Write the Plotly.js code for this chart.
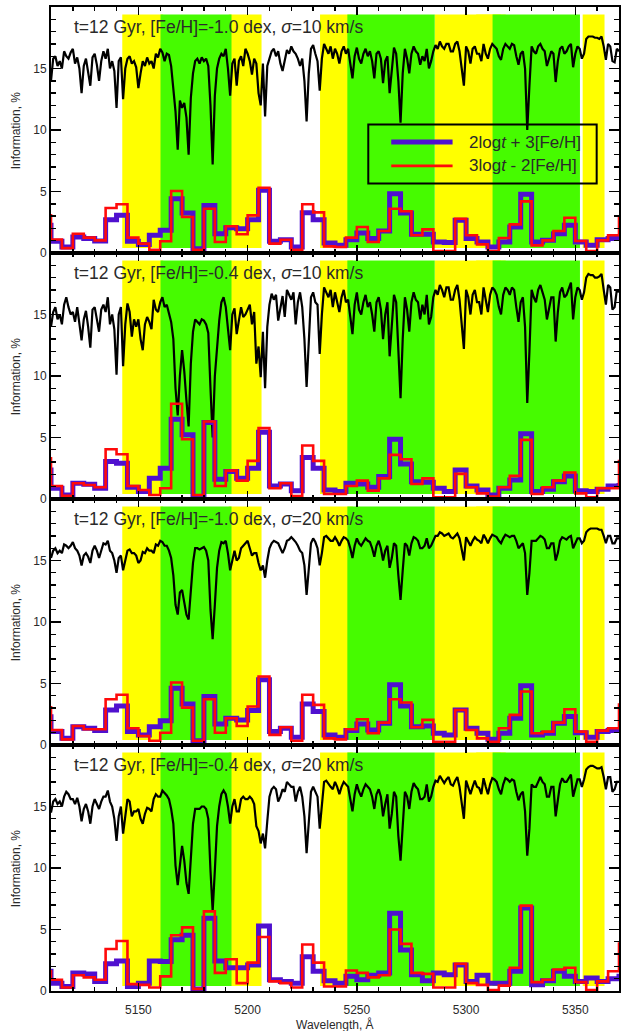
<!DOCTYPE html>
<html><head><meta charset="utf-8">
<script src="https://cdn.plot.ly/plotly-3.0.1.min.js"></script>
<style>html,body{margin:0;padding:0;background:#fff}#chart{width:621px;height:1031px}</style>
</head><body><div id="chart"></div>
<script>
// ---------- DATA ----------
const specWave = [
5110,5111,5112,5113,5114,5115,5116,5117,5118,5119,
5120,5121,5122,5123,5124,5125,5126,5127,5128,5129,
5130,5131,5132,5133,5134,5135,5136,5137,5138,5139,
5140,5141,5142,5143,5144,5145,5146,5147,5148,5149,
5150,5151,5152,5153,5154,5155,5156,5157,5158,5159,
5160,5161,5162,5163,5164,5165,5166,5167,5168,5169,
5170,5171,5172,5173,5174,5175,5176,5177,5178,5179,
5180,5181,5182,5183,5184,5185,5186,5187,5188,5189,
5190,5191,5192,5193,5194,5195,5196,5197,5198,5199,
5200,5201,5202,5203,5204,5205,5206,5207,5208,5209,
5210,5211,5212,5213,5214,5215,5216,5217,5218,5219,
5220,5221,5222,5223,5224,5225,5226,5227,5228,5229,
5230,5231,5232,5233,5234,5235,5236,5237,5238,5239,
5240,5241,5242,5243,5244,5245,5246,5247,5248,5249,
5250,5251,5252,5253,5254,5255,5256,5257,5258,5259,
5260,5261,5262,5263,5264,5265,5266,5267,5268,5269,
5270,5271,5272,5273,5274,5275,5276,5277,5278,5279,
5280,5281,5282,5283,5284,5285,5286,5287,5288,5289,
5290,5291,5292,5293,5294,5295,5296,5297,5298,5299,
5300,5301,5302,5303,5304,5305,5306,5307,5308,5309,
5310,5311,5312,5313,5314,5315,5316,5317,5318,5319,
5320,5321,5322,5323,5324,5325,5326,5327,5328,5329,
5330,5331,5332,5333,5334,5335,5336,5337,5338,5339,
5340,5341,5342,5343,5344,5345,5346,5347,5348,5349,
5350,5351,5352,5353,5354,5355,5356,5357,5358,5359,
5360,5361,5362,5363,5364,5365,5366,5367,5368,5369,
5370];

const specP1 = [
14.0,15.8,16.0,15.2,15.6,15.0,16.4,16.0,15.8,16.3,
16.6,15.4,15.9,15.0,13.0,15.2,15.8,14.8,13.6,15.9,
16.2,15.3,14.0,15.6,16.4,15.8,16.6,15.0,15.6,14.8,
11.8,15.6,15.9,12.5,15.0,15.8,16.0,15.4,15.6,15.1,
13.4,14.6,15.6,15.2,15.9,15.4,15.6,15.0,16.2,15.9,
16.6,16.3,15.6,16.2,16.1,15.2,13.6,11.5,8.4,12.4,
11.8,12.2,11.0,8.0,12.6,14.6,15.6,15.8,15.4,15.9,
15.6,15.8,15.2,12.0,7.2,12.8,15.0,15.8,16.2,16.0,
16.6,15.0,12.8,15.4,15.8,13.6,15.6,16.0,15.2,16.6,
16.2,15.6,14.5,15.8,15.4,13.0,12.0,15.4,11.1,15.2,
15.8,16.4,16.6,16.0,16.4,15.4,14.8,15.6,16.5,16.2,
16.8,16.4,16.2,15.8,15.2,15.8,14.0,10.7,14.6,16.6,
16.9,16.2,15.6,13.2,15.8,17.0,16.6,16.2,16.8,15.8,
16.6,16.2,15.4,16.4,16.8,16.2,16.6,15.4,14.2,16.0,
16.7,15.8,15.4,16.2,16.6,16.0,16.4,15.6,14.2,16.2,
16.4,15.8,13.8,15.6,16.0,13.0,14.8,16.7,16.2,14.0,
10.6,14.6,16.6,15.8,14.6,16.2,16.8,16.4,16.2,15.3,
16.0,15.6,16.6,15.0,15.6,16.4,16.9,16.6,17.2,16.8,
16.6,17.0,17.0,16.4,16.4,17.0,17.2,16.4,15.0,13.6,
16.8,16.4,15.4,16.6,16.8,16.2,16.2,15.6,17.0,16.2,
15.8,16.6,17.0,16.8,16.6,16.0,15.7,16.6,17.0,16.8,
16.6,17.0,16.9,16.0,15.3,16.2,16.4,15.0,10.0,13.6,
16.8,16.4,16.2,16.8,17.0,16.6,16.4,15.2,15.8,16.4,
16.2,13.9,15.6,16.6,16.8,16.2,16.4,16.8,17.0,15.1,
16.2,16.8,16.6,15.8,16.2,17.4,17.6,17.6,17.6,17.5,
17.5,17.4,17.6,16.8,15.7,17.0,16.8,15.6,15.5,16.6,
16.4];

const specP2 = [
14.0,15.2,15.6,14.6,15.0,14.2,15.8,16.4,15.6,15.0,
15.2,14.4,15.6,14.4,12.9,14.6,15.3,14.0,12.3,15.4,
15.6,14.6,13.6,15.4,15.8,15.2,16.4,14.2,15.0,13.8,
10.1,15.0,15.6,10.8,14.2,15.9,15.2,13.2,14.6,14.0,
14.6,13.0,12.1,14.2,14.8,14.4,13.8,16.2,15.4,15.2,
16.0,16.4,15.6,15.8,15.0,14.4,13.0,9.0,6.8,10.0,
12.1,10.4,8.0,5.9,11.0,13.6,14.6,14.4,14.2,14.6,
14.5,14.2,13.5,9.0,5.0,10.0,12.5,14.5,16.0,16.4,
15.6,14.0,12.1,15.0,15.5,13.4,14.6,15.6,14.8,15.0,
15.4,15.8,14.2,15.2,11.0,12.4,9.9,13.6,9.0,14.0,
15.8,16.7,16.2,16.6,14.5,15.6,16.5,14.8,17.0,16.6,
16.2,16.8,14.2,16.0,16.8,15.6,13.0,9.1,12.8,16.4,
16.8,16.0,15.8,11.8,15.0,17.2,16.8,16.4,17.0,15.6,
16.8,16.0,15.2,16.4,17.0,16.0,16.2,14.8,13.4,15.8,
16.8,15.4,15.0,16.0,16.6,15.6,16.0,15.0,13.6,16.0,
16.4,15.4,13.0,15.0,16.0,11.6,13.8,16.6,16.0,12.6,
8.2,13.0,16.4,15.4,13.6,16.0,16.8,16.2,16.0,14.6,
15.8,15.0,16.6,14.2,14.8,16.4,17.0,16.6,17.4,17.0,
16.4,17.2,17.2,16.2,16.2,17.0,17.4,16.2,14.4,12.2,
17.0,16.4,15.0,16.6,17.0,16.0,16.0,15.0,17.2,16.0,
15.2,16.6,17.2,17.0,16.6,15.6,15.0,16.6,17.2,17.0,
16.6,17.2,17.0,15.6,14.4,16.0,16.4,14.0,7.8,12.0,
17.0,16.4,16.0,17.0,17.4,16.8,16.2,14.6,15.6,16.4,
16.4,12.8,15.2,16.8,17.2,16.4,16.6,17.2,17.6,14.6,
16.4,17.2,17.0,16.2,16.8,18.0,18.3,18.2,18.2,18.0,
18.0,18.1,18.3,17.0,15.8,17.4,17.2,15.4,15.6,17.0,
16.8];

const specP3 = [
15.2,15.8,16.0,15.6,15.8,15.6,16.3,16.2,16.0,16.2,
16.5,16.0,15.8,15.4,14.6,15.4,15.6,15.3,14.8,15.8,
16.2,15.8,15.2,15.8,16.4,16.3,16.6,15.8,15.6,15.0,
14.0,15.2,15.4,14.2,15.0,15.8,15.9,15.6,15.6,15.4,
14.8,15.0,15.7,15.6,16.0,15.8,15.8,15.6,16.3,16.2,
16.6,16.5,16.2,16.2,15.8,15.2,13.8,11.4,10.6,12.4,
12.6,11.6,10.6,10.2,12.4,14.8,16.0,16.0,15.9,16.0,
16.1,15.8,15.0,11.0,8.6,11.4,14.4,15.8,16.5,16.4,
16.6,15.6,14.2,15.0,15.8,15.0,15.2,16.0,16.2,16.4,
16.6,16.0,15.4,15.6,15.6,14.8,14.2,14.6,13.6,15.0,
16.0,16.4,16.6,16.5,16.4,16.0,15.6,16.0,16.6,16.7,
16.9,16.7,16.5,16.2,15.8,15.6,14.6,12.2,14.0,16.4,
16.8,16.5,16.0,14.6,15.6,16.9,17.0,16.8,16.6,16.6,
16.9,16.6,16.2,16.6,16.9,16.8,16.6,16.0,15.2,16.2,
16.8,16.4,16.2,16.5,16.8,16.6,16.5,16.0,15.3,16.2,
16.6,16.0,15.0,15.8,16.2,14.4,15.2,16.4,16.2,13.8,
11.8,14.2,16.4,16.2,15.4,16.4,16.9,16.8,16.6,16.0,
16.0,16.2,16.8,16.0,16.2,16.6,17.0,17.0,17.3,17.2,
17.0,17.1,17.2,16.9,16.8,17.0,17.2,16.8,16.0,15.0,
16.9,16.6,16.2,16.6,16.9,16.7,16.6,16.4,17.1,16.8,
16.4,16.8,17.1,17.0,16.9,16.6,16.4,16.8,17.1,17.0,
16.9,17.0,17.0,16.6,16.0,16.2,16.4,15.6,12.2,14.0,
16.6,16.6,16.6,16.8,17.0,16.9,16.7,16.0,16.0,16.4,
16.4,15.0,15.6,16.6,16.9,16.8,16.7,16.9,17.0,16.0,
16.4,16.8,16.8,16.4,16.6,17.3,17.5,17.6,17.6,17.6,
17.6,17.5,17.5,17.0,16.4,17.0,17.0,16.4,16.4,16.8,
16.8];

const specP4 = [
14.5,15.4,15.6,15.2,15.4,15.0,15.8,16.2,16.0,15.6,
15.6,15.2,15.7,15.0,13.8,14.8,15.2,14.6,13.6,15.0,
15.6,15.2,14.8,15.4,15.8,15.8,16.3,15.4,15.0,14.0,
12.2,14.2,15.0,12.8,14.0,15.6,15.4,14.2,14.6,14.6,
14.8,14.0,13.6,14.4,14.9,14.8,14.6,15.6,16.0,15.8,
15.8,16.3,16.1,15.9,15.6,14.8,13.6,10.2,8.6,10.4,
11.8,10.6,8.8,7.9,10.8,13.6,14.8,14.8,14.8,15.0,
15.0,14.8,14.0,9.8,6.5,9.8,13.4,15.0,16.0,16.3,
16.0,15.0,13.6,15.0,15.6,14.6,14.6,15.6,15.8,15.6,
15.6,15.8,15.6,15.2,13.4,13.0,12.0,12.8,11.6,13.8,
15.8,16.4,16.6,16.4,15.4,15.8,16.4,16.2,17.0,16.8,
16.6,16.6,15.4,16.2,16.6,15.8,14.2,11.2,13.4,16.2,
16.6,16.2,15.8,13.2,15.2,17.0,17.1,16.8,16.6,16.4,
17.0,16.6,16.0,16.6,17.0,16.8,16.6,15.6,14.6,16.0,
16.8,16.2,15.8,16.4,16.8,16.6,16.4,15.8,14.8,16.0,
16.4,15.8,14.2,15.2,16.0,13.2,14.4,16.2,15.8,12.6,
10.6,13.4,16.2,15.8,14.8,16.2,16.9,16.6,16.4,15.6,
15.6,15.8,16.8,15.4,15.8,16.6,17.1,17.0,17.5,17.2,
16.9,17.2,17.4,16.8,16.7,17.1,17.4,16.6,15.4,14.0,
17.1,16.6,16.0,16.6,17.1,16.6,16.5,16.0,17.3,16.6,
16.0,16.8,17.3,17.2,17.0,16.4,16.0,16.8,17.3,17.2,
17.0,17.2,17.1,16.2,15.5,16.0,16.2,14.6,11.0,13.2,
16.8,16.6,16.6,17.0,17.4,17.0,16.8,15.8,15.8,16.6,
16.6,14.2,15.4,16.8,17.3,17.0,17.0,17.3,17.6,15.8,
16.6,17.2,17.2,16.6,17.2,18.0,18.2,18.3,18.3,18.2,
18.1,18.1,18.2,17.4,16.4,17.4,17.4,16.2,16.4,17.0,
17.0];

// histogram bins: left edges (5 A wide)
const binLeft = [5105,5110,5115,5120,5125,5130,5135,5140,5145,5150,5155,5160,5165,5170,5175,5180,5185,5190,5195,5200,5205,5210,5215,5220,5225,5230,5235,5240,5245,5250,5255,5260,5265,5270,5275,5280,5285,5290,5295,5300,5305,5310,5315,5320,5325,5330,5335,5340,5345,5350,5355,5360,5365,5370];

const blueP1 = [2.25,0.95,0.49,1.3,1.17,0.98,2.7,3.06,0.95,0.7,1.44,1.84,4.42,3.25,0.35,3.87,1.57,2.06,1.98,2.71,5.1,0.95,1.08,0.49,3.28,2.71,0.81,0.62,1.08,1.63,1.17,1.79,4.82,3.25,1.52,1.52,0.89,0.85,2.66,1.17,0.89,0.49,0.89,2.11,4.77,0.89,1.03,1.57,2.25,0.89,0.62,1.08,1.17,1.3];
const redP1  = [3.06,1.1,0.4,1.57,1.25,1.03,3.66,3.96,1.25,0.76,0.27,0.95,5.04,2.93,0.27,3.6,0.9,2.17,1.52,3.06,5.31,0.76,1.08,0.27,3.96,3.3,0.54,0.49,1.25,2.11,0.89,1.79,3.6,3.39,1.44,1.92,0.16,0.16,2.79,1.44,0.7,0.16,1.22,2.33,4.2,0.62,1.03,1.79,2.87,0.98,0.16,1.03,1.44,3.0];

const blueP2 = [2.36,0.87,0.33,1.28,1.2,0.87,3.04,2.91,0.95,0.6,1.68,2.5,6.49,5.22,0.19,6.22,1.6,2.23,1.68,2.5,5.43,1.06,1.22,0.68,3.37,2.5,0.73,0.6,1.28,1.22,0.95,1.82,4.86,2.85,1.41,1.36,0.87,0.6,2.36,1.06,0.73,0.33,0.87,1.55,5.3,0.6,0.79,1.41,1.88,0.68,0.6,0.79,1.06,1.3];
const redP2  = [3.3,1.06,0.27,1.28,1.14,0.95,4.05,3.64,1.06,0.73,0.33,0.87,7.74,4.86,0.33,6.3,1.06,2.31,1.49,3.1,5.76,0.87,1.28,0.24,4.35,3.1,0.41,0.41,1.06,1.49,0.68,1.68,3.59,3.23,1.22,1.68,0.14,0.14,2.04,0.95,0.46,0.19,0.95,1.88,4.81,0.41,0.95,1.49,2.15,0.46,0.14,0.87,0.87,3.2];

const blueP3 = [2.3,1.09,0.54,1.49,1.36,1.17,2.85,3.18,1.09,0.82,1.49,1.98,4.62,3.34,0.35,3.94,1.71,2.17,2.04,2.8,5.3,1.09,1.36,0.63,3.34,2.72,0.82,0.63,1.17,1.71,1.22,1.77,4.89,3.18,1.49,1.55,0.95,0.82,2.85,1.36,0.95,0.46,0.95,2.17,4.81,0.82,0.95,1.77,2.31,1.0,0.63,1.09,1.17,1.3];
const redP3  = [3.07,1.22,0.46,1.55,1.28,1.28,3.72,4.08,1.36,0.73,0.35,1.0,5.08,3.04,0.35,3.72,1.0,2.17,1.55,3.13,5.57,0.82,1.44,0.35,4.08,3.26,0.54,0.46,1.28,2.09,0.95,1.82,3.72,3.45,1.44,2.04,0.27,0.27,2.85,1.22,0.54,0.27,1.36,2.45,4.35,0.95,1.09,1.82,2.91,1.09,0.27,1.17,1.36,3.4];

const blueP4 = [1.6,0.64,0.36,1.47,1.39,0.78,2.22,2.44,0.36,0.64,2.44,2.39,4.17,4.53,0.17,5.92,2.44,1.89,1.89,2.11,5.28,0.92,0.78,0.64,2.78,1.61,0.83,0.64,1.19,0.92,1.28,1.47,6.33,3.33,1.33,0.83,1.47,1.33,2.11,0.78,1.28,0.64,0.64,1.61,6.75,0.5,0.83,1.61,1.19,0.78,1.06,0.78,1.0,1.4];
const redP4  = [1.6,0.92,0.28,1.28,1.11,0.92,3.42,4.06,0.56,0.5,0.28,1.19,4.53,5.17,0.17,6.47,1.47,2.58,0.64,2.31,4.39,0.78,0.64,0.28,3.78,2.31,0.36,0.36,1.67,1.47,1.11,1.28,5.0,3.83,1.47,1.39,0.28,0.28,2.22,0.64,0.5,0.08,0.44,1.89,6.94,0.72,0.92,1.75,1.89,0.72,0.08,0.78,1.61,3.97];

const panelTitles = [
  't=12 Gyr, [Fe/H]=-1.0 dex, <i>σ</i>=10 km/s',
  't=12 Gyr, [Fe/H]=-0.4 dex, <i>σ</i>=10 km/s',
  't=12 Gyr, [Fe/H]=-1.0 dex, <i>σ</i>=20 km/s',
  't=12 Gyr, [Fe/H]=-0.4 dex, <i>σ</i>=20 km/s'
];
const seriesNames = ['2log<i>t</i> + 3[Fe/H]', '3log<i>t</i> - 2[Fe/H]'];
// Lick index passbands (pseudo-continua yellow, index green)
const yellowBands = [[5142.625,5161.375],[5191.375,5206.375],[5233.15,5248.15],[5285.65,5318.15],[5304.625,5315.875],[5353.375,5363.375]];
const greenBands  = [[5160.125,5192.625],[5245.65,5285.65],[5312.125,5352.125]];
const xTickVals = [5150,5200,5250,5300,5350];
const yTickVals = [0,5,10,15];

// ---------- STYLE ----------
const BLUE = '#4f10cf', RED = '#ff0a0a', YELLOW = '#ffff00', GREEN = '#46fb00';
const FONT = 'Liberation Sans, Arial, Helvetica, sans-serif';
const TXT = '#2a2a2a';

const spectra = [specP1, specP2, specP3, specP4];
const blues = [blueP1, blueP2, blueP3, blueP4];
const reds = [redP1, redP2, redP3, redP4];

const data = [], shapes = [], annotations = [];
const layout = {
  width: 621, height: 1031,
  margin: {l: 51, r: 2, t: 7, b: 40},
  paper_bgcolor: '#fff', plot_bgcolor: '#fff',
  showlegend: false,
  font: {family: FONT, color: TXT, size: 12}
};

for (let k = 0; k < 4; k++) {
  const xa = k === 0 ? 'x' : 'x' + (k + 1);
  const ya = k === 0 ? 'y' : 'y' + (k + 1);
  data.push({x: specWave, y: spectra[k], xaxis: xa, yaxis: ya, mode: 'lines',
    line: {color: '#000', width: 2.2}, hoverinfo: 'skip'});
  data.push({x: binLeft, y: blues[k], xaxis: xa, yaxis: ya, mode: 'lines', name: seriesNames[0],
    line: {color: BLUE, width: 5, shape: 'hv'}, hoverinfo: 'skip'});
  data.push({x: binLeft, y: reds[k], xaxis: xa, yaxis: ya, mode: 'lines', name: seriesNames[1],
    line: {color: RED, width: 2.6, shape: 'hv'}, hoverinfo: 'skip'});

  yellowBands.forEach(b => shapes.push({type: 'rect', xref: xa, yref: ya, x0: b[0], x1: b[1], y0: 0.4, y1: 19.4,
    fillcolor: YELLOW, line: {width: 0}, layer: 'below'}));
  greenBands.forEach(b => shapes.push({type: 'rect', xref: xa, yref: ya, x0: b[0], x1: b[1], y0: 0.4, y1: 19.4,
    fillcolor: GREEN, line: {width: 0}, layer: 'below'}));

  annotations.push({xref: xa + ' domain', yref: ya + ' domain', x: 0.037, y: 0.917, xanchor: 'left', yanchor: 'middle',
    text: panelTitles[k], showarrow: false, font: {family: FONT, size: 17.5, color: TXT}});
  annotations.push({xref: 'paper', yref: ya + ' domain', x: -0.061, y: 0.5, xanchor: 'center', yanchor: 'middle',
    textangle: -90, text: 'Information, %', showarrow: false, font: {family: FONT, size: 12, color: TXT}});

  const dom = [1 - (k + 1) / 4, 1 - k / 4];
  layout[k === 0 ? 'xaxis' : 'xaxis' + (k + 1)] = {
    domain: [0, 1], anchor: ya, range: [5110, 5370], fixedrange: true,
    showline: true, linecolor: '#000', linewidth: 2, mirror: 'ticks',
    ticks: 'inside', ticklen: 8, tickwidth: 1.6, tickcolor: '#000',
    tickmode: 'array', tickvals: xTickVals, ticktext: xTickVals.map(String),
    ticklabelstandoff: 7,
    minor: {tickmode: 'linear', tick0: 5110, dtick: 10, ticks: 'inside', ticklen: 4, tickwidth: 1.4, tickcolor: '#000'},
    showgrid: false, zeroline: false, showticklabels: k === 3,
    tickfont: {family: FONT, size: 12, color: TXT}
  };
  layout[k === 0 ? 'yaxis' : 'yaxis' + (k + 1)] = {
    domain: dom, anchor: xa, range: [0, 20], fixedrange: true,
    showline: true, linecolor: '#000', linewidth: 2, mirror: 'ticks',
    ticks: 'inside', ticklen: 10, tickwidth: 1.6, tickcolor: '#000',
    tickmode: 'array', tickvals: yTickVals, ticktext: yTickVals.map(String),
    minor: {tickmode: 'linear', tick0: 0, dtick: 1, ticks: 'inside', ticklen: 5, tickwidth: 1.4, tickcolor: '#000'},
    showgrid: false, zeroline: false,
    tickfont: {family: FONT, size: 12, color: TXT}
  };
}

// custom legend box in the top panel
shapes.push({type: 'rect', xref: 'x domain', yref: 'y domain', x0: 0.5586, x1: 0.9607, y0: 0.283, y1: 0.522,
  line: {color: '#000', width: 2}, fillcolor: 'rgba(0,0,0,0)', layer: 'above'});
shapes.push({type: 'line', xref: 'x domain', yref: 'y domain', x0: 0.599, x1: 0.707, y0: 0.451, y1: 0.451,
  line: {color: BLUE, width: 5}, layer: 'above'});
shapes.push({type: 'line', xref: 'x domain', yref: 'y domain', x0: 0.599, x1: 0.707, y0: 0.354, y1: 0.354,
  line: {color: RED, width: 2.6}, layer: 'above'});
annotations.push({xref: 'x domain', yref: 'y domain', x: 0.733, y: 0.451, xanchor: 'left', yanchor: 'middle',
  text: seriesNames[0], showarrow: false, font: {family: FONT, size: 17, color: TXT}});
annotations.push({xref: 'x domain', yref: 'y domain', x: 0.733, y: 0.354, xanchor: 'left', yanchor: 'middle',
  text: seriesNames[1], showarrow: false, font: {family: FONT, size: 17, color: TXT}});

annotations.push({xref: 'paper', yref: 'paper', x: 0.5, y: -0.034, xanchor: 'center', yanchor: 'middle',
  text: 'Wavelength, Å', showarrow: false, font: {family: FONT, size: 12, color: TXT}});

layout.shapes = shapes;
layout.annotations = annotations;

Plotly.newPlot('chart', data, layout, {staticPlot: true, displayModeBar: false});
</script></body></html>
